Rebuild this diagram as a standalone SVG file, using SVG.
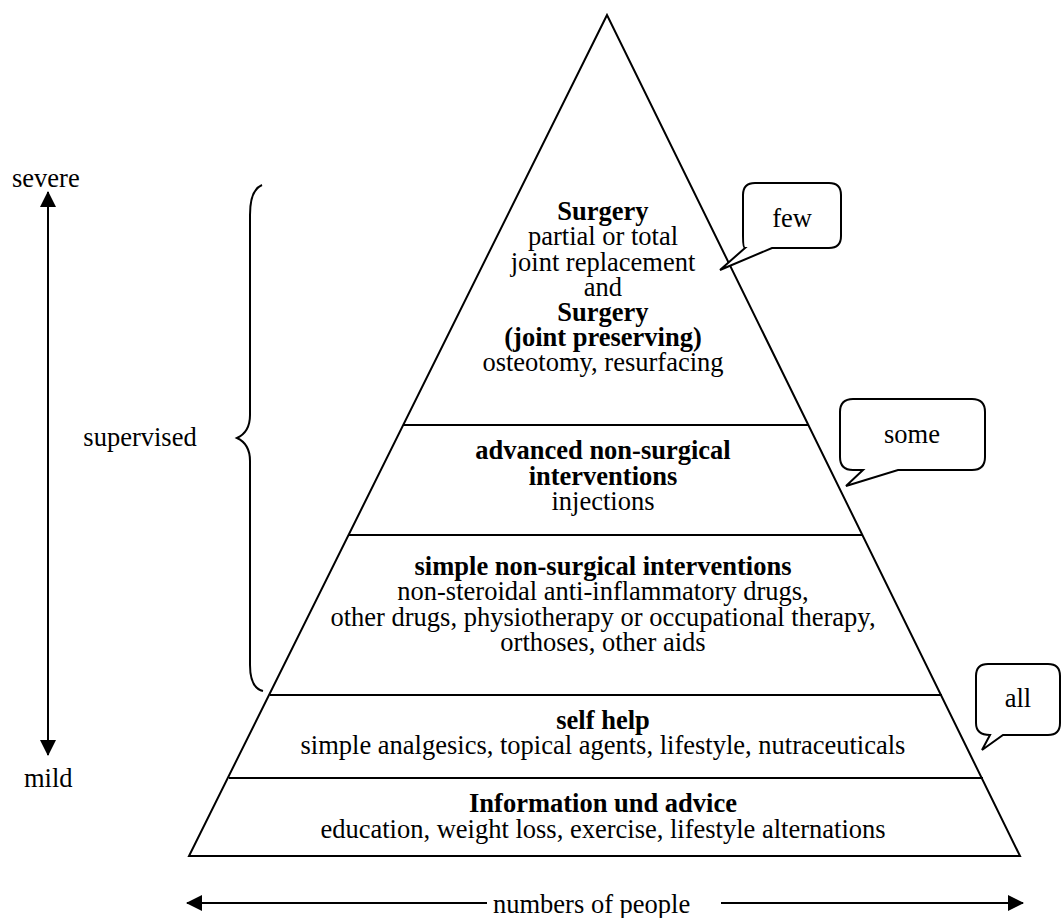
<svg xmlns="http://www.w3.org/2000/svg" width="1063" height="918" viewBox="0 0 1063 918">
<style>
text{font-family:"Liberation Serif","Times New Roman",serif;font-size:26.5px;fill:#000}
.c{text-anchor:middle}
.b{font-weight:bold}
.ln{stroke:#000;stroke-width:2;fill:none}
.bub{stroke:#000;stroke-width:2;fill:#fff;stroke-linejoin:miter}
</style>
<defs>
<marker id="ah2" markerWidth="16" markerHeight="16" refX="15" refY="8" orient="auto" markerUnits="userSpaceOnUse" viewBox="0 0 16 16">
<path d="M0,0 L16,8 L0,16 z" fill="#000"/>
</marker>
</defs>
<g id="pyramid">
<path class="ln" d="M607,15 L189,856 L1020,856 Z"/>
<line class="ln" x1="403" y1="425" x2="808" y2="425"/>
<line class="ln" x1="349" y1="535" x2="863" y2="535"/>
<line class="ln" x1="270" y1="695" x2="942" y2="695"/>
<line class="ln" x1="229" y1="778" x2="983" y2="778"/>
</g>
<g id="tier-surgery">
<text class="c b" x="603" y="220">Surgery</text>
<text class="c" x="603" y="245">partial or total</text>
<text class="c" x="603" y="271">joint replacement</text>
<text class="c" x="603" y="296">and</text>
<text class="c b" x="603" y="321">Surgery</text>
<text class="c b" x="603" y="346">(joint preserving)</text>
<text class="c" x="603" y="371">osteotomy, resurfacing</text>
</g>
<g id="tier-advanced">
<text class="c b" x="603" y="459">advanced non-surgical</text>
<text class="c b" x="603" y="485">interventions</text>
<text class="c" x="603" y="510">injections</text>
</g>
<g id="tier-simple">
<text class="c b" x="603" y="575">simple non-surgical interventions</text>
<text class="c" x="603" y="600">non-steroidal anti-inflammatory drugs,</text>
<text class="c" x="603" y="626">other drugs, physiotherapy or occupational therapy,</text>
<text class="c" x="603" y="651">orthoses, other aids</text>
</g>
<g id="tier-selfhelp">
<text class="c b" x="603" y="729">self help</text>
<text class="c" x="603" y="754">simple analgesics, topical agents, lifestyle, nutraceuticals</text>
</g>
<g id="tier-info">
<text class="c b" x="603" y="812">Information und advice</text>
<text class="c" x="603" y="838">education, weight loss, exercise, lifestyle alternations</text>
</g>
<g id="bubble-few">
<path class="bub" d="M755,183 L829,183 Q841,183 841,195 L841,236 Q841,248 829,248 L772,248 L720,270 L745,248 Q743,248 743,236 L743,195 Q743,183 755,183 Z"/>
<text class="c" x="792" y="227">few</text>
</g>
<g id="bubble-some">
<path class="bub" d="M853,399 L972,399 Q985,399 985,412 L985,457 Q985,470 972,470 L898,470 L846,486 L863,470 L853,470 Q840,470 840,457 L840,412 Q840,399 853,399 Z"/>
<text class="c" x="912" y="443">some</text>
</g>
<g id="bubble-all">
<path class="bub" d="M988,664 L1048,664 Q1060,664 1060,676 L1060,723 Q1060,735 1048,735 L1003,735 L982,750 L990,735 Q976,735 976,723 L976,676 Q976,664 988,664 Z"/>
<text class="c" x="1018" y="707">all</text>
</g>
<g id="connectors">
<line class="ln" x1="48" y1="740" x2="48" y2="192" marker-end="url(#ah2)"/>
<line class="ln" x1="48" y1="220" x2="48" y2="755" marker-end="url(#ah2)"/>
<line class="ln" x1="487" y1="903" x2="187" y2="903" marker-end="url(#ah2)"/>
<line class="ln" x1="721" y1="903" x2="1023" y2="903" marker-end="url(#ah2)"/>
<path class="ln" d="M262,185 Q250,190 250,215 L250,415 Q250,432 237,438 Q250,444 250,461 L250,665 Q250,688 263,691"/>
</g>
<g id="labels">
<text x="12" y="187">severe</text>
<text x="24" y="787">mild</text>
<text class="c" x="140" y="446">supervised</text>
<text x="493" y="913">numbers of people</text>
</g>
</svg>
